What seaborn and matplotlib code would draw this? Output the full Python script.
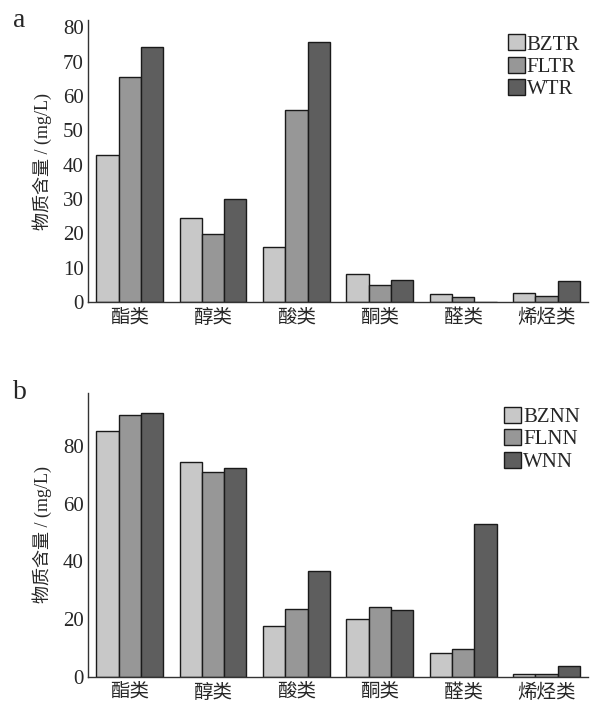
import numpy as np
import pandas as pd
import matplotlib
matplotlib.use("Agg")
import matplotlib.pyplot as plt
import seaborn as sns

categories = ["酯类", "醇类", "酸类", "酮类", "醛类", "烯烃类"]

series_a = ["BZTR", "FLTR", "WTR"]
bztr = [42.9, 24.5, 16.1, 8.3, 2.2, 2.6]
fltr = [65.5, 19.9, 56.0, 5.0, 1.4, 1.7]
wtr = [74.4, 30.1, 75.8, 6.5, 0.0, 6.0]

series_b = ["BZNN", "FLNN", "WNN"]
bznn = [85.3, 74.7, 17.5, 20.1, 8.1, 1.0]
flnn = [90.7, 71.1, 23.4, 24.1, 9.5, 0.8]
wnn = [91.5, 72.6, 36.8, 23.3, 53.1, 3.6]

yticks_a = [0, 10, 20, 30, 40, 50, 60, 70, 80]
yticks_b = [0, 20, 40, 60, 80]

colors = ["#c8c8c8", "#979797", "#5e5e5e"]

sns.set_style("white")
plt.rcParams["font.family"] = ["Liberation Serif", "Noto Sans CJK SC"]
plt.rcParams["xtick.direction"] = "in"
plt.rcParams["ytick.direction"] = "in"


def long_table(names, values):
    rows = []
    for name, vals in zip(names, values):
        for cat, v in zip(categories, vals):
            rows.append({"cat": cat, "group": name, "value": v})
    return pd.DataFrame(rows)


def draw_panel(ax, df, names, yticks, ymax, letter):
    sns.barplot(data=df, x="cat", y="value", hue="group", hue_order=names,
                order=categories, palette=colors, edgecolor="#1a1a1a",
                linewidth=1.0, width=0.8, ax=ax, saturation=1)
    ax.set_xlim(-0.5, 5.5)
    ax.set_ylim(0, ymax)
    ax.set_yticks(yticks)
    ax.set_xlabel("")
    ax.set_ylabel("物质含量 / (mg/L)", fontsize=13, labelpad=8)
    sns.despine(ax=ax)
    for s in ["left", "bottom"]:
        ax.spines[s].set_color("#333333")
        ax.spines[s].set_linewidth(1.0)
    ax.tick_params(axis="y", labelsize=15, length=4, width=1, color="#333333", pad=3)
    ax.tick_params(axis="x", labelsize=14, length=4, width=1, color="#333333", pad=5)
    leg = ax.legend(loc="upper right", frameon=False, fontsize=15,
                    handlelength=0.8, handleheight=0.8, handletextpad=0.1,
                    labelspacing=0.1, borderaxespad=0.0,
                    bbox_to_anchor=(1.0, 0.98))
    for h in leg.legend_handles:
        h.set_edgecolor("#1a1a1a")
    ax.text(-0.15, 1.0, letter, transform=ax.transAxes, fontsize=20,
            ha="left", va="center")


fig = plt.figure(figsize=(5.92, 7.04), dpi=100)
ax_a = fig.add_axes([0.1486, 0.571, 0.845, 0.400])
ax_b = fig.add_axes([0.1486, 0.0388, 0.845, 0.403])

draw_panel(ax_a, long_table(series_a, [bztr, fltr, wtr]), series_a,
           yticks_a, 82, "a")
draw_panel(ax_b, long_table(series_b, [bznn, flnn, wnn]), series_b,
           yticks_b, 98.5, "b")

fig.savefig("out.png", dpi=100)
